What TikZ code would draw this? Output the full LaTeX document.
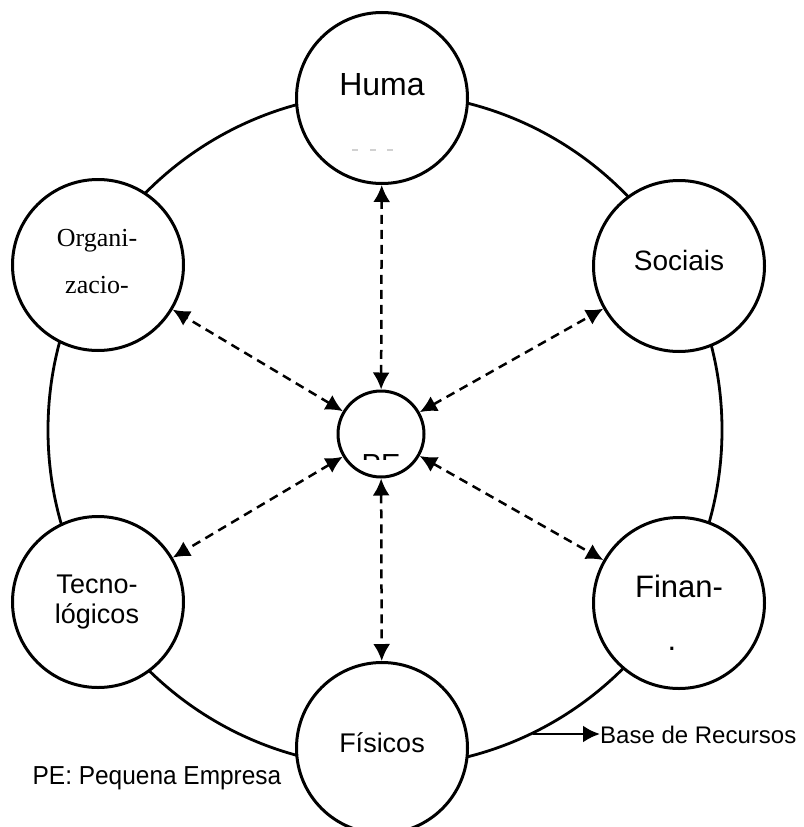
\documentclass[tikz,border=0pt]{standalone}
\usepackage{fontspec}
\setmainfont{Liberation Sans}
\newfontfamily\SerifFont{Liberation Serif}
\usetikzlibrary{arrows.meta}
\definecolor{DotClr}{gray}{0.82}

\tikzset{
  Recurso/.style={circle,draw=black,line width=3pt,fill=white,minimum size=171pt,inner sep=0pt},
  Centro/.style={circle,draw=black,line width=3pt,fill=white,minimum size=86pt,inner sep=0pt},
  Rotulo/.style={anchor=base,inner sep=0pt},
  Ponta/.tip={Latex[length=17pt,width=17pt]},
  Liga/.style={line width=2.5pt,dash pattern=on 9pt off 6pt,Ponta-Ponta}
}

\begin{document}
\begin{tikzpicture}[x=1pt,y=-1pt]
\useasboundingbox (0,0) rectangle (803,827);
\clip (0,0) rectangle (803,827);

% base circle
\coordinate (bc) at (385,430);
\draw[line width=2.8pt] (bc) circle[radius=337pt];

% resources
\node[Recurso] (huma)    at (382,98)  {};
\node[Recurso] (sociais) at (679,266) {};
\node[Recurso] (finan)   at (679,603) {};
\node[Recurso] (fisicos) at (382,748) {};
\node[Recurso] (tecno)   at (98,602)  {};
\node[Recurso] (organ)   at (98,265)  {};
\node[Centro]  (pe)      at (381,434) {};

\node[Rotulo,font=\fontsize{32}{36}\selectfont] (humaTxt) at (382,95) {Huma};
\fill[DotClr] (352,149) rectangle (358,151);
\fill[DotClr] (370,149) rectangle (376,151);
\fill[DotClr] (387,149) rectangle (393,151);

\node[Rotulo,font=\fontsize{28}{32}\selectfont] (sociaisTxt) at (679,270) {Sociais};
\node[Rotulo,font=\fontsize{31}{35}\selectfont] (finanTxt) at (679,597) {Finan-};
\node[Rotulo,font=\fontsize{31}{35}\selectfont] (finanPt) at (672,650) {.};
\node[Rotulo,font=\fontsize{27}{31}\selectfont] (fisicosTxt) at (382,752) {Físicos};
\node[Rotulo,font=\fontsize{27}{31}\selectfont] (tecnoTxt) at (97,593) {Tecno-};
\node[Rotulo,font=\fontsize{27}{31}\selectfont] (tecnoTxtB) at (97,623) {lógicos};
\node[Rotulo,font=\SerifFont\fontsize{26}{30}\selectfont] (organTxt) at (97,246) {Organi-};
\node[Rotulo,font=\SerifFont\fontsize{26}{30}\selectfont] (organTxtB) at (97,293) {zacio-};

% PE label, cut off as in the source
\begin{scope}
\clip (330,400) rectangle (440,459);
\node[Rotulo,font=\fontsize{29}{32}\selectfont] (peTxt) at (381,474) {PE};
\end{scope}

% links
\foreach \r in {huma,sociais,finan,fisicos,tecno,organ}
  \draw[Liga] (pe) -- (\r);

% legend
\coordinate (br) at (533,734);
\node[anchor=west,inner sep=0pt,font=\fontsize{24}{28}\selectfont] (base) at (600,735) {Base de Recursos};
\draw[line width=2.8pt,-Ponta] (br) -- (br -| base.west);
\node[Rotulo,font=\fontsize{26}{30}\selectfont] (leg) at (157,784) {\scalebox{0.94}[1]{PE: Pequena Empresa}};

\end{tikzpicture}
\end{document}
